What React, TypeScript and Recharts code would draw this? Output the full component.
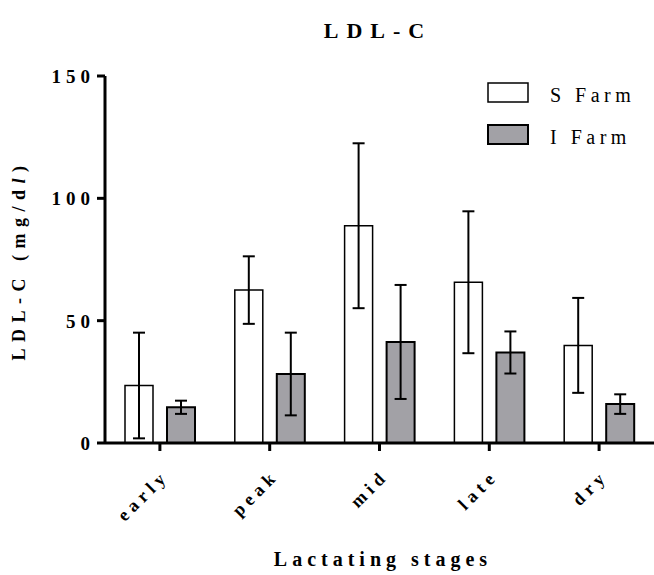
import React from 'react';
import { BarChart, Bar, XAxis, YAxis, ErrorBar, Legend, Customized } from 'recharts';

const categories = ['early', 'peak', 'mid', 'late', 'dry'];
const sFarm = [23.5, 62.5, 88.8, 65.7, 39.9];
const sFarmSD = [21.6, 13.8, 33.7, 29.0, 19.4];
const iFarm = [14.6, 28.2, 41.3, 37.0, 15.9];
const iFarmSD = [2.7, 16.9, 23.3, 8.6, 4.0];
const yTicks = [0, 50, 100, 150];

const data = categories.map((c, i) => ({
  stage: c,
  s: sFarm[i],
  sErr: sFarmSD[i],
  iv: iFarm[i],
  iErr: iFarmSD[i],
}));

const FONT = "'Liberation Serif', 'DejaVu Serif', serif";
const GREY = '#a2a1a6';

const bold = (size: number, ls: number) => ({
  fontFamily: FONT,
  fontWeight: 700,
  fontSize: size,
  letterSpacing: ls,
});

const YTick = (props: any) => {
  const { x, y, payload } = props;
  return (
    <text x={x} y={y + 7} textAnchor="end" fill="#000" style={bold(19, 5)}>
      {payload.value}
    </text>
  );
};

const XTick = (props: any) => {
  const { x, y, payload } = props;
  return (
    <text
      transform={`translate(${x + 10},${y + 24}) rotate(-45)`}
      textAnchor="end"
      fill="#000"
      style={bold(18, 5)}
    >
      {payload.value}
    </text>
  );
};

const LegendContent = () => (
  <svg width={170} height={70} style={{ display: 'block' }}>
    <rect x={1} y={1} width={40} height={19} fill="#fff" stroke="#000" strokeWidth={1.5} />
    <text x={63} y={20} fill="#000" style={{ fontFamily: FONT, fontSize: 20, letterSpacing: 4.5 }}>S Farm</text>
    <rect x={1} y={43} width={40} height={19} fill={GREY} stroke="#000" strokeWidth={2} />
    <text x={63} y={62} fill="#000" style={{ fontFamily: FONT, fontSize: 20, letterSpacing: 4.5 }}>I Farm</text>
  </svg>
);

const Titles = () => (
  <g>
    <text x={378} y={38} textAnchor="middle" fill="#000" style={bold(22, 8)}>
      LDL-C
    </text>
    <text x={383} y={566} textAnchor="middle" fill="#000" style={bold(20, 5)}>
      Lactating stages
    </text>
    <text transform="translate(25,260) rotate(-90)" textAnchor="middle" fill="#000" style={bold(18, 6.5)}>
      LDL-C (mg/d<tspan style={{ fontStyle: 'italic' }}>l</tspan>)
    </text>
  </g>
);

export default function App() {
  return (
    <div style={{ position: 'absolute', left: 0, top: 0, width: 654, height: 575, background: '#fff' }}>
      <BarChart
        width={654}
        height={575}
        data={data}
        margin={{ top: 76, right: 0, bottom: 72, left: 0 }}
        barSize={28}
        barGap={14}
      >
        <XAxis
          dataKey="stage"
          height={60}
          axisLine={{ stroke: '#000', strokeWidth: 3 }}
          tickLine={{ stroke: '#000', strokeWidth: 3 }}
          tickSize={8}
          tick={<XTick />}
          interval={0}
        />
        <YAxis
          width={105}
          domain={[0, 150]}
          ticks={yTicks}
          axisLine={{ stroke: '#000', strokeWidth: 3 }}
          tickLine={{ stroke: '#000', strokeWidth: 3 }}
          tickSize={8}
          tick={<YTick />}
          allowDataOverflow
        />
        <Legend
          verticalAlign="middle"
          align="center"
          content={<LegendContent />}
          wrapperStyle={{ left: 487, top: 82, width: 170, height: 70 }}
        />
        <Bar dataKey="s" name="S Farm" fill="#fff" stroke="#000" strokeWidth={1.5} isAnimationActive={false}>
          <ErrorBar dataKey="sErr" width={6} stroke="#000" strokeWidth={2} isAnimationActive={false} />
        </Bar>
        <Bar dataKey="iv" name="I Farm" fill={GREY} stroke="#000" strokeWidth={2} isAnimationActive={false}>
          <ErrorBar dataKey="iErr" width={6} stroke="#000" strokeWidth={2} isAnimationActive={false} />
        </Bar>
        <Customized component={Titles} />
      </BarChart>
    </div>
  );
}
